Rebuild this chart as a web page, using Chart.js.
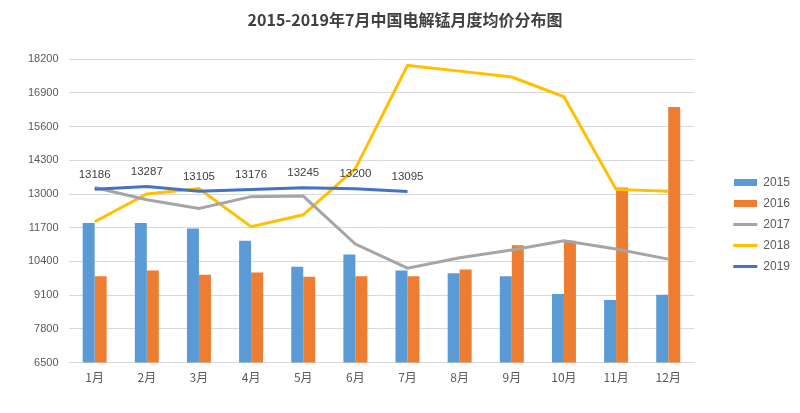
<!DOCTYPE html>
<html>
<head>
<meta charset="utf-8">
<script src="https://cdn.jsdelivr.net/npm/chart.js@4"></script>
<style>
  html, body { margin: 0; padding: 0; background: #fff; }
  #wrap { width: 800px; height: 413px; }
</style>
</head>
<body>
<div id="wrap"><canvas id="myChart"></canvas></div>
<script>
var months = ["1月", "2月", "3月", "4月", "5月", "6月", "7月", "8月", "9月", "10月", "11月", "12月"];
var y2015 = [11880, 11880, 11670, 11200, 10200, 10670, 10050, 9950, 9830, 9150, 8910, 9120];
var y2016 = [9830, 10050, 9890, 9970, 9810, 9830, 9830, 10090, 11030, 11200, 13250, 16360];
var y2017 = [13250, 12780, 12440, 12900, 12920, 11070, 10140, 10540, 10840, 11200, 10880, 10490];
var y2018 = [11930, 13000, 13210, 11740, 12200, 13980, 17960, 17740, 17510, 16750, 13180, 13110];
var y2019 = [13186, 13287, 13105, 13176, 13245, 13200, 13095];

var textColor = "#595959";

// small filled swatch for the bar series in the legend
function swatch(color) {
    var c = document.createElement("canvas");
    c.width = 23;
    c.height = 7;
    var g = c.getContext("2d");
    g.fillStyle = color;
    g.fillRect(0, 0, 23, 7);
    return c;
}

// labels over the 2019 line
var labelPlugin = {
    id: "labels2019",
    afterDatasetsDraw: function (chart) {
        var ctx = chart.ctx;
        var meta = chart.getDatasetMeta(4);
        ctx.save();
        ctx.font = "11.5px 'Liberation Sans', Arial, sans-serif";
        ctx.fillStyle = "#404040";
        ctx.textAlign = "center";
        ctx.textBaseline = "bottom";
        meta.data.forEach(function (pt, i) {
            ctx.fillText(String(y2019[i]), pt.x, pt.y - 9);
        });
        ctx.restore();
    },
};

// leave a wider gap between plot and legend
var legendGap = 22;
var legendShift = {
    id: "legendShift",
    beforeInit: function (chart) {
        var lg = chart.legend;
        var fit = lg.fit;
        lg.fit = function () {
            fit.call(lg);
            lg.width += legendGap;
        };
    },
    afterLayout: function (chart) {
        chart.legend.left += 30;
        chart.legend.right += 30;
        chart.legend.top += 26;
        chart.legend.bottom += 26;
    },
};

var data = {
    labels: months,
    datasets: [
        {
            type: "bar",
            label: "2015",
            data: y2015,
            backgroundColor: "#5b9bd5",
            barPercentage: 1,
            categoryPercentage: 0.46,
            pointStyle: swatch("#5b9bd5"),
            order: 2,
        },
        {
            type: "bar",
            label: "2016",
            data: y2016,
            backgroundColor: "#ed7d31",
            barPercentage: 1,
            categoryPercentage: 0.46,
            pointStyle: swatch("#ed7d31"),
            order: 2,
        },
        {
            type: "line",
            label: "2017",
            data: y2017,
            borderColor: "#a5a5a5",
            backgroundColor: "#a5a5a5",
            borderWidth: 3,
            pointRadius: 0,
            pointStyle: "line",
            order: 1,
        },
        {
            type: "line",
            label: "2018",
            data: y2018,
            borderColor: "#ffc000",
            backgroundColor: "#ffc000",
            borderWidth: 3,
            pointRadius: 0,
            pointStyle: "line",
            order: 1,
        },
        {
            type: "line",
            label: "2019",
            data: y2019,
            borderColor: "#4472c4",
            backgroundColor: "#4472c4",
            borderWidth: 3,
            pointRadius: 0,
            pointStyle: "line",
            order: 0,
        },
    ],
};

var config = {
    type: "bar",
    data: data,
    plugins: [labelPlugin, legendShift],
    options: {
        responsive: true,
        maintainAspectRatio: false,
        animation: false,
        layout: { padding: { left: 18, right: 8, top: 4, bottom: 20 } },
        plugins: {
            title: {
                display: true,
                text: "2015-2019年7月中国电解锰月度均价分布图",
                color: "#404040",
                font: { size: 16, weight: "bold", family: "'Noto Sans CJK SC', sans-serif" },
                padding: { top: 6, bottom: 30 },
            },
            legend: {
                position: "right",
                labels: {
                    usePointStyle: true,
                    pointStyleWidth: 24,
                    boxHeight: 8,
                    color: textColor,
                    padding: 9,
                    font: { size: 12, family: "'Liberation Sans', Arial, sans-serif" },
                    sort: function (a, b) {
                        return a.datasetIndex - b.datasetIndex;
                    },
                },
            },
            tooltip: { enabled: false },
        },
        scales: {
            x: {
                grid: { display: false, drawTicks: false },
                border: { color: "#d9d9d9" },
                ticks: {
                    color: textColor,
                    padding: 8,
                    font: { size: 12, family: "'Noto Sans CJK SC', sans-serif" },
                },
            },
            y: {
                min: 6500,
                max: 18200,
                ticks: {
                    stepSize: 1300,
                    color: textColor,
                    padding: 10,
                    font: { size: 11, family: "'Liberation Sans', Arial, sans-serif" },
                    callback: function (v) {
                        return String(v);
                    },
                },
                grid: { color: "#d9d9d9", drawTicks: false },
                border: { display: false },
            },
        },
    },
};

var myChart = new Chart(document.getElementById("myChart"), config);
</script>
</body>
</html>
